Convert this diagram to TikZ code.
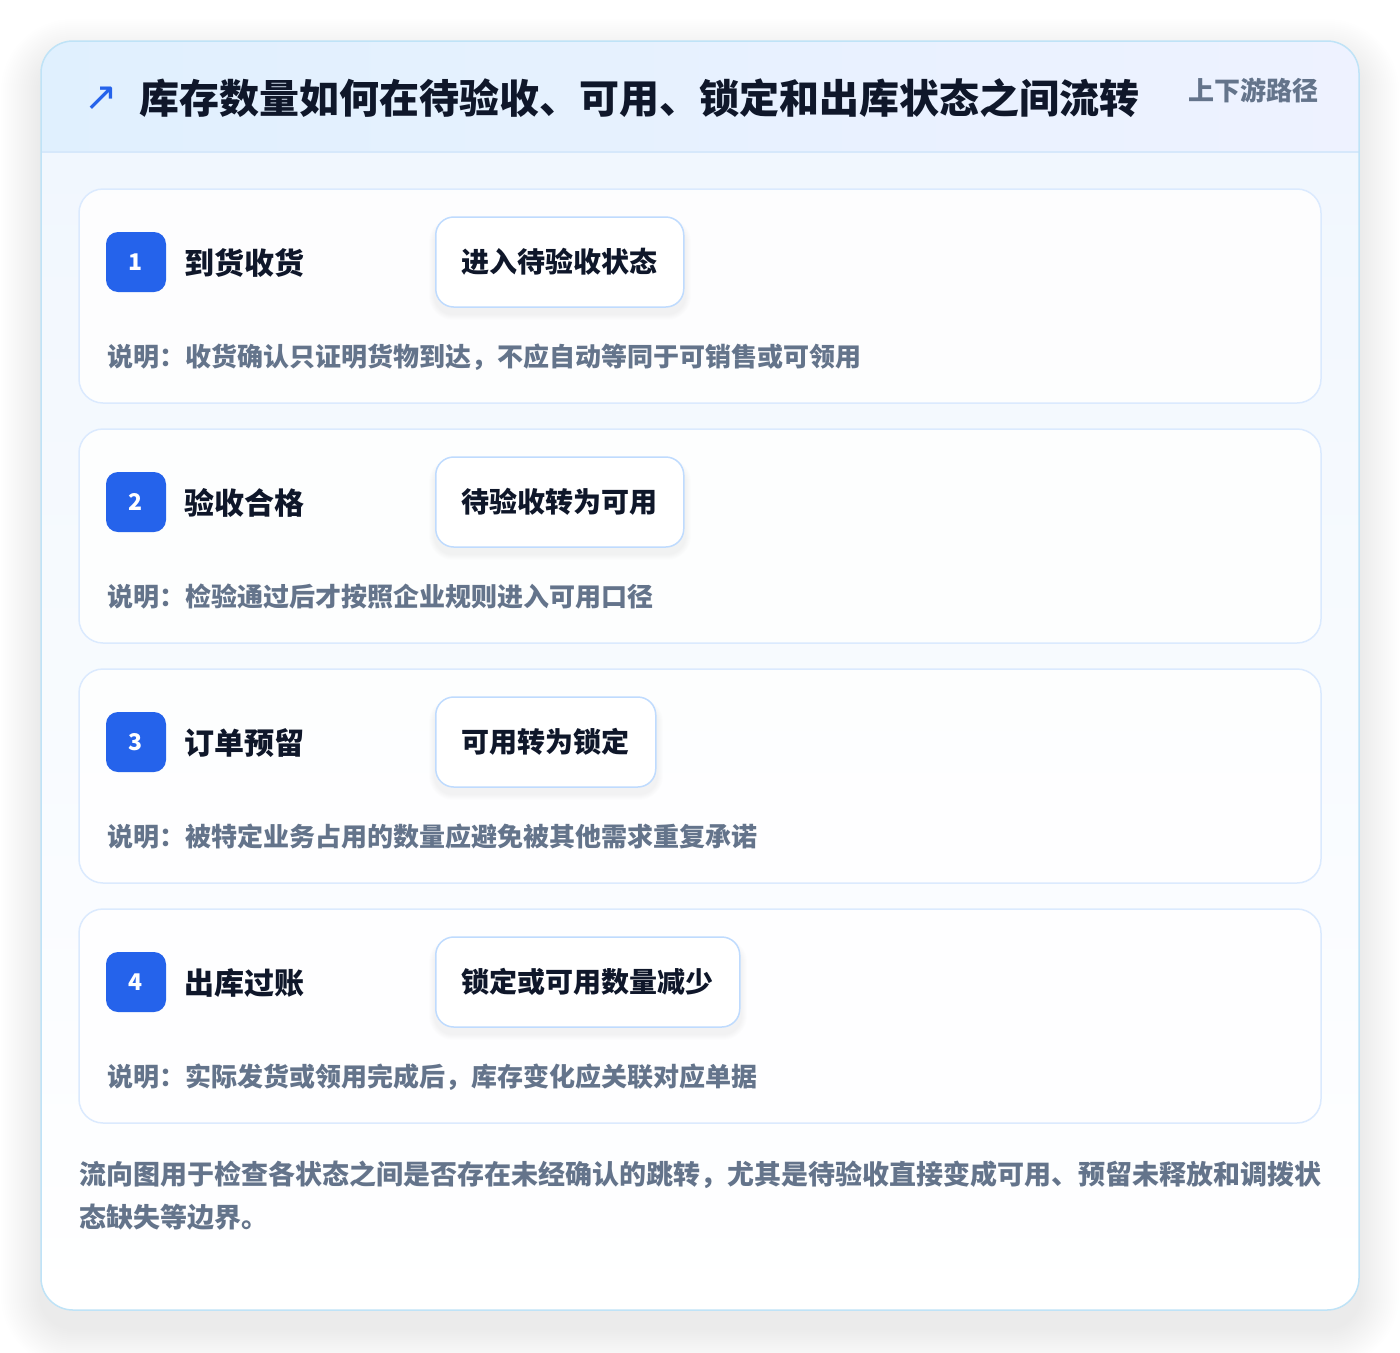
\documentclass[tikz,border=0pt]{standalone}
\usepackage{fontspec}
\setmainfont{Noto Sans CJK SC}
\newfontfamily\symfont{DejaVu Sans}
\definecolor{CardLine}{HTML}{BFE3F7}
\definecolor{HeadL}{HTML}{E0F0FE}
\definecolor{HeadR}{HTML}{EEF2FF}
\definecolor{HeadRule}{HTML}{D6E8FB}
\definecolor{BodyTop}{HTML}{F1F7FE}
\definecolor{StepLine}{HTML}{DBEAFE}
\definecolor{BoxLine}{HTML}{BFDBFE}
\definecolor{BadgeClr}{HTML}{2563EB}
\definecolor{Ink}{HTML}{0F172A}
\definecolor{Muted}{HTML}{64748B}

\begin{document}
\begin{tikzpicture}[x=1pt,y=-1pt,
  stepcard/.style={draw=StepLine,line width=1.5pt,fill=white,fill opacity=.85,rounded corners=24pt},
  badge/.style={fill=BadgeClr,text=white,rounded corners=12pt,minimum size=60pt,inner sep=0pt,
    font=\fontsize{23}{23}\selectfont\bfseries},
  steptitle/.style={anchor=west,inner sep=0pt,text=Ink,font=\fontsize{30}{30}\selectfont\bfseries},
  statebox/.style={anchor=west,draw=BoxLine,line width=1.5pt,fill=white,rounded corners=18pt,
    minimum height=90pt,inner xsep=26pt,text=Ink,font=\fontsize{28}{28}\selectfont\bfseries},
  note/.style={anchor=west,inner sep=0pt,text=Muted,font=\fontsize{26}{26}\selectfont\bfseries},
  foot/.style={anchor=west,inner sep=0pt,text=Muted,font=\fontsize{27}{27}\selectfont\bfseries}]
\useasboundingbox[fill=white] (0,0) rectangle (1400,1352);

% soft shadow of the outer card
\foreach \k in {1,...,20}
  \fill[black,opacity=.0042,rounded corners=32pt+\k*2pt]
    (41-\k*2,41-\k*2+18) rectangle (1359+\k*2,1310+\k*2+18);

% outer card
\begin{scope}
\clip[rounded corners=32pt] (41,41) rectangle (1359,1310);
\fill[left color=HeadL,right color=HeadR] (41,41) rectangle (1359,152);
\fill[top color=BodyTop,bottom color=white] (41,152) rectangle (1359,1310);
\draw[HeadRule,line width=1.5pt] (41,152) -- (1359,152);
\end{scope}
\draw[CardLine,line width=1.5pt,rounded corners=32pt] (41,41) rectangle (1359,1310);

% header
\node[text=BadgeClr,inner sep=0pt,font=\symfont\fontsize{40}{40}\selectfont] (icon) at (101,99) {↗};
\node[anchor=west,inner sep=0pt,text=Ink,font=\fontsize{40}{40}\selectfont\bfseries] (title) at (139,98)
  {库存数量如何在待验收、可用、锁定和出库状态之间流转};
\node[anchor=west,inner sep=0pt,text=Muted,font=\fontsize{26}{26}\selectfont\bfseries] (route) at (1188,90)
  {上下游路径};

% step cards
\draw[stepcard] (79,189) rectangle (1321,403);
\draw[stepcard] (79,429) rectangle (1321,643);
\draw[stepcard] (79,669) rectangle (1321,883);
\draw[stepcard] (79,909) rectangle (1321,1123);

% shadows under the state boxes
\foreach \y/\w in {262/250,502/250,742/222,982/306}
  \foreach \k in {1,...,6}
    \fill[black,opacity=.008,rounded corners=18pt+\k pt]
      (435-\k,\y-45-\k+7) rectangle (435+\w+\k,\y+45+\k+7);

% step 1
\node[badge] (badge1) at (136,262) {1};
\node[steptitle] (title1) at (184,263) {到货收货};
\node[statebox] (state1) at (435,262) {进入待验收状态};
\node[note] (note1) at (107,357) {说明：收货确认只证明货物到达，不应自动等同于可销售或可领用};

% step 2
\node[badge] (badge2) at (136,502) {2};
\node[steptitle] (title2) at (184,503) {验收合格};
\node[statebox] (state2) at (435,502) {待验收转为可用};
\node[note] (note2) at (107,597) {说明：检验通过后才按照企业规则进入可用口径};

% step 3
\node[badge] (badge3) at (136,742) {3};
\node[steptitle] (title3) at (184,743) {订单预留};
\node[statebox] (state3) at (435,742) {可用转为锁定};
\node[note] (note3) at (107,837) {说明：被特定业务占用的数量应避免被其他需求重复承诺};

% step 4
\node[badge] (badge4) at (136,982) {4};
\node[steptitle] (title4) at (184,983) {出库过账};
\node[statebox] (state4) at (435,982) {锁定或可用数量减少};
\node[note] (note4) at (107,1077) {说明：实际发货或领用完成后，库存变化应关联对应单据};

% footer
\node[foot] (foot1) at (79,1175) {流向图用于检查各状态之间是否存在未经确认的跳转，尤其是待验收直接变成可用、预留未释放和调拨状};
\node[foot] (foot2) at (79,1217) {态缺失等边界。};

\end{tikzpicture}
\end{document}
